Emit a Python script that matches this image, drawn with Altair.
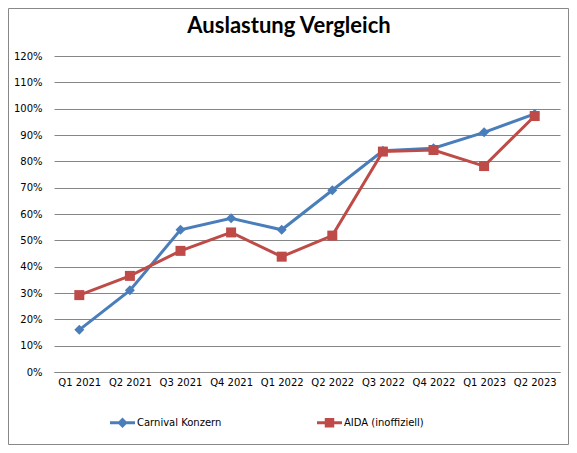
import altair as alt
import pandas as pd

quarters = ["Q1 2021", "Q2 2021", "Q3 2021", "Q4 2021", "Q1 2022",
            "Q2 2022", "Q3 2022", "Q4 2022", "Q1 2023", "Q2 2023"]
carnival = [0.16, 0.31, 0.54, 0.584, 0.54, 0.69, 0.84, 0.85, 0.91, 0.98]
aida = [0.292, 0.365, 0.46, 0.53, 0.438, 0.518, 0.837, 0.843, 0.782, 0.972]
series_names = ["Carnival Konzern", "AIDA (inoffiziell)"]
series_colors = ["#4A7EBB", "#BE4B48"]
y_ticks = [i / 10 for i in range(13)]

rows = []
for q, c, a in zip(quarters, carnival, aida):
    rows.append({"Quartal": q, "Serie": series_names[0], "Wert": c})
    rows.append({"Quartal": q, "Serie": series_names[1], "Wert": a})
df = pd.DataFrame(rows)

FONT = "DejaVu Sans"

x_enc = alt.X("Quartal:N", sort=quarters, scale=alt.Scale(paddingInner=0, paddingOuter=0),
              axis=alt.Axis(title=None, labelAngle=0, ticks=False, domain=True,
                            domainColor="#868686", labelFont=FONT, labelFontSize=10,
                            labelColor="#000000", labelPadding=5, grid=False))
y_enc = alt.Y("Wert:Q", scale=alt.Scale(domain=[0, 1.2], nice=False),
              axis=alt.Axis(title=None, values=y_ticks, format=".0%", ticks=False,
                            domain=False, grid=True, gridColor="#868686", gridOpacity=1,
                            labelFont=FONT, labelFontSize=10, labelColor="#000000",
                            labelPadding=12))
color_scale = alt.Scale(domain=series_names, range=series_colors)

base = alt.Chart(df)

lines = base.mark_line(strokeWidth=3).encode(
    x=x_enc, y=y_enc,
    color=alt.Color("Serie:N", scale=color_scale, legend=None),
    detail="Serie:N",
)

points = base.mark_point(filled=True, opacity=1, size=100).encode(
    x=x_enc, y=y_enc,
    color=alt.Color("Serie:N", scale=color_scale, legend=None),
    shape=alt.Shape("Serie:N", scale=alt.Scale(domain=series_names, range=["diamond", "square"]),
                    legend=None),
)

legend_paths = [
    "M-1,-0.12H1V0.12H-1Z M0,-0.42L0.42,0L0,0.42L-0.42,0Z",
    "M-1,-0.12H1V0.12H-1Z M-0.38,-0.38H0.38V0.38H-0.38Z",
]
fill_expr = ("datum.value === '%s' ? '%s' : '%s'"
             % (series_names[0], series_colors[0], series_colors[1]))
legend_layer = base.mark_point(filled=True, opacity=0).encode(
    x=x_enc, y=y_enc,
    color=alt.Color("Serie:N", scale=color_scale, legend=None),
    shape=alt.Shape("Serie:N", scale=alt.Scale(domain=series_names, range=legend_paths),
                    legend=alt.Legend(title=None, orient="none", direction="horizontal",
                                      legendX=56, legendY=354, symbolSize=625,
                                      symbolOpacity=1, symbolStrokeWidth=0,
                                      symbolFillColor=alt.ExprRef(fill_expr),
                                      labelFont=FONT, labelFontSize=10, labelColor="#000000",
                                      labelOffset=2, columnPadding=95, padding=0)),
)

one = pd.DataFrame({"t": ["Auslastung Vergleich"]})
title = alt.Chart(one).mark_text(font="Lato", fontSize=22, fontWeight="bold",
                                 align="center", baseline="middle", color="#000000").encode(
    text="t:N", x=alt.value(235), y=alt.value(-30))

border = alt.Chart(one).mark_rect(fill=None, stroke="#888888", strokeWidth=1).encode(
    x=alt.value(-45.5), x2=alt.value(514.5), y=alt.value(-47.5), y2=alt.value(388.5))

chart = alt.layer(border, lines, points, legend_layer, title).resolve_scale(
    shape="independent"
).properties(
    width=506, height=316,
    autosize=alt.AutoSizeParams(type="none"),
    padding={"left": 46, "top": 48, "right": 9, "bottom": 73},
    background="#ffffff",
).configure_view(stroke=None)

chart.save("out.html", embed_options={"renderer": "svg", "actions": False})
